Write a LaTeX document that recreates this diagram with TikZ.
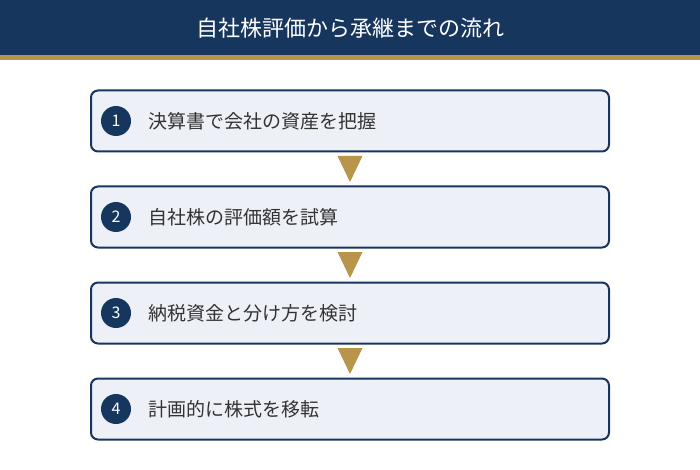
\documentclass[tikz,border=0pt]{standalone}
\usepackage{fontspec}
\setmainfont{Noto Sans CJK JP}
\usetikzlibrary{positioning,calc}
\definecolor{navy}{HTML}{17365D}
\definecolor{gold}{HTML}{B8954A}
\definecolor{pale}{HTML}{EDF0F7}
\definecolor{ink}{HTML}{333333}
\tikzset{
	stepbox/.style={draw=navy, line width=2pt, fill=pale, rounded corners=7pt,
		minimum width=518pt, minimum height=61pt, inner sep=0pt},
	badge/.style={circle, fill=navy, text=white, minimum size=30pt, inner sep=0pt,
		font=\fontsize{16}{16}\selectfont},
	steptext/.style={anchor=west, text=ink, font=\fontsize{19}{19}\selectfont},
	pointer/.style={fill=gold}
}
\begin{document}
\begin{tikzpicture}[x=1pt, y=-1pt]
	\useasboundingbox (0,0) rectangle (700,470);
	% header
	\fill[navy] (0,0) rectangle (700,55);
	\fill[gold] (0,55) rectangle (700,60);
	\node[text=white, font=\fontsize{22}{22}\selectfont] (title) at (350,28) {自社株評価から承継までの流れ};
	% steps
	\foreach \n/\lbl in {1/決算書で会社の資産を把握, 2/自社株の評価額を試算,
		3/納税資金と分け方を検討, 4/計画的に株式を移転}{
		\node[stepbox] (box\n) at (350, 25+96*\n) {};
		\node[badge] (num\n) at ($(box\n.west)+(26,0)$) {\n};
		\node[steptext] (txt\n) at ($(box\n.west)+(55,0)$) {\lbl};
	}
	% arrows between the steps
	\foreach \a/\b in {1/2, 2/3, 3/4}{
		\coordinate (mid\a) at ($(box\a.south)!0.5!(box\b.north)$);
		\fill[pointer] ($(mid\a)+(-12.5,-13)$) -- ($(mid\a)+(12.5,-13)$) -- ($(mid\a)+(0,13)$) -- cycle;
	}
\end{tikzpicture}
\end{document}
